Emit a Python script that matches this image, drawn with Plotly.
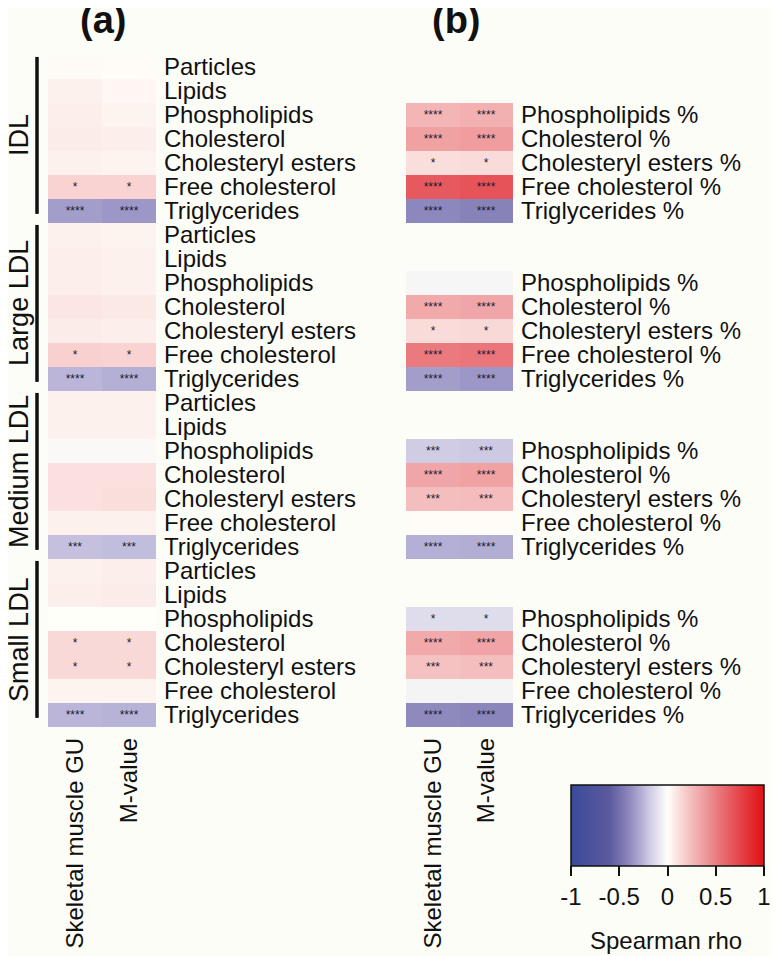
import plotly.graph_objects as go

# ---------------- data ----------------
groups = ["IDL", "Large LDL", "Medium LDL", "Small LDL"]
columns = ["Skeletal muscle GU", "M-value"]
measures_a = ["Particles", "Lipids", "Phospholipids", "Cholesterol",
              "Cholesteryl esters", "Free cholesterol", "Triglycerides"]
measures_b = ["Phospholipids %", "Cholesterol %", "Cholesteryl esters %",
              "Free cholesterol %", "Triglycerides %"]

# panel (a): Spearman rho [Skeletal muscle GU, M-value] per measure
rho_a_idl = [[0.02, 0.01], [0.05, 0.03], [0.06, 0.04], [0.07, 0.06],
             [0.05, 0.04], [0.16, 0.16], [-0.33, -0.35]]
rho_a_large = [[0.05, 0.04], [0.06, 0.05], [0.06, 0.05], [0.09, 0.08],
               [0.07, 0.06], [0.17, 0.16], [-0.25, -0.27]]
rho_a_medium = [[0.05, 0.05], [0.05, 0.05], [-0.02, -0.02], [0.11, 0.11],
                [0.11, 0.12], [0.05, 0.05], [-0.22, -0.23]]
rho_a_small = [[0.05, 0.06], [0.06, 0.07], [0.00, 0.00], [0.14, 0.14],
               [0.14, 0.14], [0.04, 0.04], [-0.25, -0.26]]
stars_a_idl = ["", "", "", "", "", "*", "****"]
stars_a_large = ["", "", "", "", "", "*", "****"]
stars_a_medium = ["", "", "", "", "", "", "***"]
stars_a_small = ["", "", "", "*", "*", "", "****"]

# panel (b): percentages
rho_b_idl = [[0.28, 0.30], [0.36, 0.38], [0.12, 0.13], [0.66, 0.68], [-0.40, -0.42]]
rho_b_large = [[-0.03, -0.03], [0.33, 0.34], [0.13, 0.14], [0.52, 0.54], [-0.33, -0.35]]
rho_b_medium = [[-0.18, -0.19], [0.34, 0.36], [0.24, 0.25], [0.01, 0.01], [-0.27, -0.28]]
rho_b_small = [[-0.12, -0.12], [0.33, 0.35], [0.23, 0.24], [-0.04, -0.04], [-0.39, -0.41]]
stars_b_idl = ["****", "****", "*", "****", "****"]
stars_b_large = ["", "****", "*", "****", "****"]
stars_b_medium = ["***", "****", "***", "", "****"]
stars_b_small = ["*", "****", "***", "", "****"]

colorbar_ticks = [-1, -0.5, 0, 0.5, 1]
colorbar_ticktext = ["-1", "-0.5", "0", "0.5", "1"]
colorbar_title = "Spearman rho"

rho_a = [rho_a_idl, rho_a_large, rho_a_medium, rho_a_small]
stars_a = [stars_a_idl, stars_a_large, stars_a_medium, stars_a_small]
rho_b = [rho_b_idl, rho_b_large, rho_b_medium, rho_b_small]
stars_b = [stars_b_idl, stars_b_large, stars_b_medium, stars_b_small]

# ---------------- build grids ----------------
n_per = len(measures_a)
z_a, t_a, lab_a = [], [], []
z_b, t_b, lab_b, val_b = [], [], [], []
for gi in range(len(groups)):
    for mi, m in enumerate(measures_a):
        z_a.append(rho_a[gi][mi])
        s = stars_a[gi][mi]
        t_a.append([s, s])
        lab_a.append(m)
    # panel b: first two rows (Particles, Lipids) have no % value
    for k in range(n_per - len(measures_b)):
        z_b.append([None, None])
        t_b.append(["", ""])
    for mi, m in enumerate(measures_b):
        z_b.append(rho_b[gi][mi])
        s = stars_b[gi][mi]
        t_b.append([s, s])
        val_b.append(gi * n_per + (n_per - len(measures_b)) + mi)
        lab_b.append(m)

rows = list(range(len(groups) * n_per))

colorscale = [
    [0.0, "rgb(59,74,152)"],
    [0.2, "rgb(92,90,158)"],
    [0.3, "rgb(140,135,188)"],
    [0.4, "rgb(202,198,226)"],
    [0.5, "rgb(255,255,250)"],
    [0.6, "rgb(246,200,200)"],
    [0.7, "rgb(238,152,154)"],
    [0.8, "rgb(232,102,108)"],
    [0.9, "rgb(226,58,62)"],
    [1.0, "rgb(224,16,20)"],
]

OFF = 8  # page body margin in the browser
W, H = 780 - OFF, 956 - OFF
FONT = "Liberation Sans, Arial, sans-serif"
BG = "#FDFDF8"


def px_x(p):
    return (p - OFF) / W


def px_y(p):
    return 1 - (p - OFF) / H


fig = go.Figure()
fig.add_trace(go.Heatmap(
    z=z_a, x=columns, y=rows, text=t_a, texttemplate="%{text}",
    textfont=dict(size=12, color="#1c1c30", family=FONT),
    colorscale=colorscale, zmin=-1, zmax=1, xaxis="x", yaxis="y",
    showscale=False, hoverinfo="skip"))
fig.add_trace(go.Heatmap(
    z=z_b, x=columns, y=rows, text=t_b, texttemplate="%{text}",
    textfont=dict(size=12, color="#1c1c30", family=FONT),
    colorscale=colorscale, zmin=-1, zmax=1, xaxis="x2", yaxis="y2",
    hoverinfo="skip",
    colorbar=dict(
        orientation="h", x=px_x(667.5), xanchor="center",
        y=px_y(785), yanchor="top", len=193 / W, lenmode="fraction",
        thickness=81, thicknessmode="pixels", xpad=0, ypad=0,
        outlinewidth=1.5, outlinecolor="#111",
        tickvals=colorbar_ticks, ticktext=colorbar_ticktext,
        ticks="outside", ticklen=10, tickwidth=1.5, tickcolor="#111",
        ticklabeloverflow="allow",
        tickfont=dict(size=24, family=FONT, color="#111"),
    )))

ydom = [px_y(727), px_y(55)]
axis_font = dict(size=24, family=FONT, color="#111")
common_x = dict(type="category", tickangle=-90, showgrid=False, zeroline=False,
                showline=False, ticks="", tickfont=axis_font, automargin=False,
                ticklabelstandoff=5, fixedrange=True)
common_y = dict(range=[len(rows) - 0.5, -0.5], showgrid=False, zeroline=False,
                showline=False, ticks="", side="right", tickfont=axis_font,
                automargin=False, ticklabelstandoff=7, fixedrange=True)

fig.update_layout(
    width=W, height=H, margin=dict(l=0, r=0, t=0, b=0),
    paper_bgcolor=BG, plot_bgcolor="rgba(0,0,0,0)",
    font=dict(family=FONT, color="#111"),
    xaxis=dict(domain=[px_x(48), px_x(156)], anchor="y", **common_x),
    yaxis=dict(domain=ydom, anchor="x", tickvals=rows, ticktext=lab_a, **common_y),
    xaxis2=dict(domain=[px_x(406), px_x(513)], anchor="y2", **common_x),
    yaxis2=dict(domain=ydom, anchor="x2", tickvals=val_b, ticktext=lab_b, **common_y),
)

# colorbar title
fig.add_annotation(xref="paper", yref="paper", x=px_x(666), y=px_y(940),
                   xanchor="center", yanchor="middle", text=colorbar_title,
                   showarrow=False, font=dict(size=24, family=FONT, color="#111"))

# group brackets and labels
for gi, g in enumerate(groups):
    y0 = gi * n_per - 0.42
    y1 = gi * n_per + n_per - 1 + 0.12
    fig.add_shape(type="line", xref="paper", yref="y", x0=px_x(37), x1=px_x(37),
                  y0=y0, y1=y1, line=dict(color="#111", width=3.5))
    fig.add_annotation(xref="paper", yref="y", x=px_x(19.5), y=(y0 + y1) / 2,
                       xanchor="center", yanchor="middle",
                       text=g, textangle=-90, showarrow=False,
                       font=dict(size=27, family=FONT, color="#111"))

# panel titles
for lab, cx in [("<b>(a)</b>", 103), ("<b>(b)</b>", 457)]:
    fig.add_annotation(xref="paper", yref="paper", x=px_x(cx), y=px_y(20),
                       xanchor="center", yanchor="middle",
                       text=lab, showarrow=False,
                       font=dict(size=38, family=FONT, color="#111"))

fig.write_html("out.html")
